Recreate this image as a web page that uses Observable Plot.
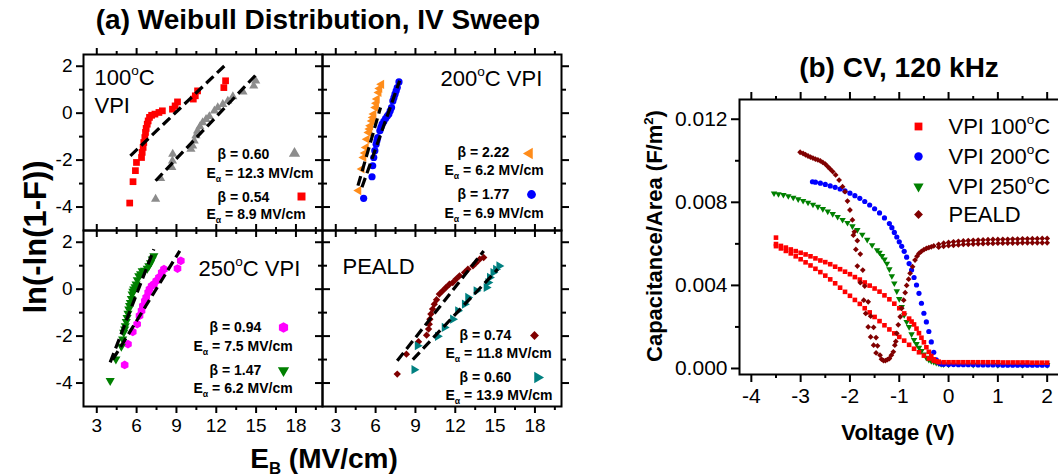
<!DOCTYPE html>
<html>
<head>
<meta charset="utf-8">
<script src="https://cdn.jsdelivr.net/npm/d3@7"></script>
<script src="https://cdn.jsdelivr.net/npm/@observablehq/plot@0.6"></script>
<style>
html, body { margin: 0; padding: 0; background: #fff; overflow: hidden; }
#root { position: relative; width: 1058px; height: 476px; font-family: "Liberation Sans", Arial, Helvetica, sans-serif; color: #000; }
.abs { position: absolute; white-space: nowrap; line-height: 1.15; }
.abs sub { font-size: 0.6em; vertical-align: -0.35em; line-height: 0; }
.abs sup { font-size: 0.6em; vertical-align: 0.7em; line-height: 0; }
</style>
</head>
<body>
<div id="root"></div>
<script>
// ================= (a) Weibull data: [E_B (MV/cm), ln(-ln(1-F))] =================
const vpi100Tri = [[7.43,-3.66],[7.81,-2.78],[8.65,-2.31],[8.70,-2.03],[8.72,-1.74],[10.09,-1.53],[10.22,-1.39],[10.34,-1.18],[10.47,-0.96],[10.59,-0.75],[10.77,-0.57],[10.97,-0.40],[11.23,-0.26],[11.48,-0.14],[11.86,0.10],[12.11,0.24],[12.49,0.38],[12.87,0.52],[13.25,0.71],[14.01,0.91],[14.82,1.16],[14.97,1.38]];
const vpi100Sq = [[5.48,-3.83],[5.73,-2.92],[5.91,-2.45],[5.99,-2.10],[6.37,-1.89],[6.42,-1.67],[6.49,-1.46],[6.54,-1.25],[6.62,-1.04],[6.67,-0.82],[6.72,-0.65],[6.80,-0.47],[6.87,-0.33],[6.97,-0.18],[7.13,-0.09],[7.38,-0.04],[7.68,0.03],[7.94,0.10],[8.70,0.17],[8.90,0.31],[9.08,0.48],[10.27,0.60],[10.42,0.74],[10.59,0.95],[12.57,1.09],[12.70,1.38]];
const vpi200Tri = [[4.72,-3.30],[4.97,-2.38],[5.10,-1.89],[5.20,-1.70],[5.28,-1.46],[5.35,-1.11],[5.48,-0.82],[5.55,-0.68],[5.61,-0.54],[5.73,-0.33],[5.80,-0.18],[5.86,-0.04],[5.99,0.24],[6.05,0.42],[6.11,0.60],[6.24,0.88],[6.30,1.05],[6.44,1.23]];
const vpi200Circ = [[5.10,-3.63],[5.73,-2.71],[5.78,-2.24],[5.86,-1.89],[5.94,-1.60],[6.04,-1.32],[6.10,-1.18],[6.16,-1.04],[6.32,-0.75],[6.40,-0.60],[6.49,-0.47],[6.62,-0.35],[6.75,-0.23],[6.88,-0.12],[7.00,-0.04],[7.10,0.10],[7.20,0.24],[7.30,0.52],[7.38,0.66],[7.46,0.81],[7.55,0.95],[7.63,1.09],[7.76,1.33]];
const vpi250Hex = [[5.10,-3.23],[5.35,-2.34],[5.71,-1.82],[6.04,-1.49],[6.22,-1.13],[6.37,-0.92],[6.47,-0.71],[6.62,-0.50],[6.72,-0.35],[6.87,-0.14],[6.97,0.00],[7.13,0.14],[7.30,0.21],[7.48,0.35],[7.68,0.50],[7.89,0.71],[8.06,0.85],[9.08,0.88],[9.33,1.21]];
const vpi250Tri = [[4.01,-3.90],[4.44,-2.98],[4.85,-2.44],[4.95,-2.13],[5.03,-1.84],[5.10,-1.70],[5.15,-1.56],[5.22,-1.38],[5.28,-1.21],[5.35,-1.03],[5.41,-0.85],[5.47,-0.70],[5.53,-0.57],[5.60,-0.40],[5.66,-0.21],[5.72,-0.10],[5.78,0.00],[5.88,0.10],[5.96,0.21],[6.05,0.40],[6.16,0.57],[6.30,0.65],[6.42,0.78],[6.60,0.80],[6.80,0.88],[6.92,0.99],[7.05,1.12],[7.18,1.28],[7.30,1.42]];
const pealdDia = [[7.63,-3.62],[8.32,-2.77],[9.23,-2.24],[9.84,-1.96],[9.99,-1.70],[10.04,-1.49],[10.09,-1.28],[10.16,-1.06],[10.29,-0.85],[10.42,-0.64],[10.59,-0.45],[10.80,-0.21],[11.05,-0.07],[11.30,0.07],[11.56,0.21],[11.81,0.28],[12.06,0.43],[12.32,0.57],[12.70,0.71],[12.95,0.85],[13.33,0.99],[13.58,1.13],[13.84,1.28],[14.14,1.35]];
const pealdTri = [[8.90,-3.43],[9.15,-2.41],[10.67,-2.01],[11.18,-1.63],[11.81,-1.28],[12.19,-0.92],[12.70,-0.64],[12.95,-0.35],[13.58,-0.07],[14.34,0.07],[14.47,0.28],[14.59,0.50],[14.85,0.71],[15.05,0.85],[15.30,0.99]];

// Weibull fit lines: [[E1, y1], [E2, y2]]
const fitVpi100Tri = [[7.43,-2.88],[15.03,1.66]];
const fitVpi100Sq = [[5.53,-1.82],[12.75,2.09]];
const fitVpi200Tri = [[4.67,-3.09],[6.37,0.24]];
const fitVpi200Circ = [[4.97,-3.16],[7.81,1.38]];
const fitVpi250Hex = [[4.20,-3.00],[9.25,1.63]];
const fitVpi250Tri = [[4.01,-3.12],[7.30,1.70]];
const fitPealdDia = [[7.63,-3.05],[14.14,1.63]];
const fitPealdTri = [[8.80,-3.00],[15.20,0.85]];

// Fit parameter labels
const betaLabels = ["β = 0.60","β = 0.54","β = 2.22","β = 1.77","β = 0.94","β = 1.47","β = 0.74","β = 0.60"];
const alphaLabels = ["Eα = 12.3 MV/cm","Eα = 8.9 MV/cm","Eα = 6.2 MV/cm","Eα = 6.9 MV/cm","Eα = 7.5 MV/cm","Eα = 6.2 MV/cm","Eα = 11.8 MV/cm","Eα = 13.9 MV/cm"];
const panelTitles = [["100°C","VPI"],["200°C VPI"],["250°C VPI"],["PEALD"]];

const xTicksA = [3,6,9,12,15,18];
const xMinorA = [4.5,7.5,10.5,13.5,16.5,19.5];
const yTicksA = [-4,-2,0,2];
const yMinorA = [-3,-1,1];

// ================= (b) CV data: [Voltage (V), C/A (F/m^2)] =================
const cvVpi100Up = [[-3.5,0.0063],[-3.5,0.00599],[-3.4,0.0059],[-3.3,0.00582],[-3.2,0.00573],[-3.1,0.00565],[-3.0,0.00557],[-2.9,0.00549],[-2.8,0.0054],[-2.7,0.0053],[-2.6,0.0052],[-2.5,0.00512],[-2.4,0.00502],[-2.3,0.0049],[-2.2,0.00478],[-2.1,0.00466],[-2.0,0.00454],[-1.9,0.0044],[-1.8,0.00428],[-1.7,0.00414],[-1.6,0.00399],[-1.5,0.00385],[-1.4,0.0037],[-1.3,0.00352],[-1.2,0.00333],[-1.1,0.00312],[-1.0,0.0029],[-0.9,0.00265],[-0.8,0.0024],[-0.75,0.00226],[-0.7,0.00212],[-0.65,0.00192],[-0.6,0.0017],[-0.55,0.00148],[-0.5,0.00126],[-0.45,0.00102],[-0.4,0.0008],[-0.35,0.0006],[-0.3,0.00044],[-0.25,0.00035],[-0.2,0.00031]];
const cvVpi100Down = [[-3.5,0.00589],[-3.4,0.00578],[-3.3,0.00566],[-3.2,0.00554],[-3.1,0.0054],[-3.0,0.00526],[-2.9,0.00511],[-2.8,0.00496],[-2.7,0.0048],[-2.6,0.00464],[-2.5,0.00447],[-2.4,0.00429],[-2.3,0.0041],[-2.2,0.00389],[-2.1,0.00369],[-2.0,0.0035],[-1.9,0.0033],[-1.8,0.00311],[-1.7,0.0029],[-1.6,0.0027],[-1.5,0.00248],[-1.4,0.00228],[-1.3,0.00208],[-1.2,0.00188],[-1.1,0.00169],[-1.0,0.00152],[-0.9,0.00134],[-0.8,0.00114],[-0.7,0.00095],[-0.6,0.00078],[-0.5,0.00062],[-0.4,0.00048],[-0.3,0.00038],[-0.2,0.00032]];
const cvVpi100Tail = [[-0.1,0.0003],[0,0.0003],[0.1,0.0003],[0.2,0.0003],[0.3,0.0003],[0.4,0.0003],[0.5,0.0003],[0.6,0.0003],[0.7,0.0003],[0.8,0.0003],[0.9,0.0003],[1.0,0.0003],[1.1,0.00029],[1.2,0.00029],[1.3,0.00029],[1.4,0.00029],[1.5,0.00029],[1.6,0.00029],[1.7,0.00028],[1.8,0.00028],[1.9,0.00028],[2.0,0.00028]];
const cvVpi200 = [[-2.76,0.00899],[-2.7,0.00897],[-2.6,0.00892],[-2.5,0.00886],[-2.4,0.00879],[-2.3,0.00872],[-2.2,0.00864],[-2.1,0.00855],[-2.0,0.00844],[-1.9,0.00832],[-1.8,0.00819],[-1.7,0.00804],[-1.6,0.00787],[-1.5,0.00769],[-1.4,0.00749],[-1.3,0.00725],[-1.2,0.00698],[-1.15,0.00678],[-1.1,0.00655],[-1.05,0.00633],[-1.0,0.0061],[-0.95,0.00588],[-0.9,0.00564],[-0.85,0.00536],[-0.8,0.00505],[-0.75,0.00474],[-0.7,0.00438],[-0.65,0.00402],[-0.6,0.00362],[-0.55,0.00314],[-0.5,0.00266],[-0.45,0.00224],[-0.4,0.00178],[-0.35,0.00128],[-0.3,0.00078],[-0.25,0.00042],[-0.2,0.00027],[-0.15,0.00022]];
const cvVpi200Tail = [[-0.1,0.0002],[0,0.00019],[0.1,0.00019],[0.2,0.00018],[0.3,0.00018],[0.4,0.00018],[0.5,0.00018],[0.6,0.00017],[0.7,0.00017],[0.8,0.00017],[0.9,0.00017],[1.0,0.00017],[1.1,0.00016],[1.2,0.00016],[1.3,0.00016],[1.4,0.00016],[1.5,0.00016],[1.6,0.00016],[1.7,0.00016],[1.8,0.00016],[1.9,0.00016],[2.0,0.00016]];
const cvVpi250 = [[-3.54,0.00843],[-3.45,0.0084],[-3.35,0.00836],[-3.25,0.0083],[-3.15,0.00823],[-3.05,0.00815],[-2.95,0.00807],[-2.85,0.00799],[-2.75,0.00789],[-2.65,0.00779],[-2.55,0.00768],[-2.45,0.00756],[-2.35,0.00744],[-2.25,0.0073],[-2.15,0.00716],[-2.05,0.00701],[-1.95,0.00685],[-1.85,0.00667],[-1.75,0.00645],[-1.65,0.0062],[-1.55,0.00594],[-1.45,0.0057],[-1.4,0.00558],[-1.35,0.00542],[-1.3,0.00525],[-1.25,0.00505],[-1.2,0.00478],[-1.15,0.00445],[-1.1,0.0041],[-1.05,0.00372],[-1.0,0.00335],[-0.95,0.00297],[-0.9,0.00257],[-0.85,0.00225],[-0.8,0.002],[-0.75,0.00165],[-0.7,0.00138],[-0.65,0.00118],[-0.6,0.001],[-0.55,0.00085],[-0.5,0.00068],[-0.45,0.00052],[-0.4,0.00042],[-0.35,0.00036],[-0.3,0.00032],[-0.25,0.00028],[-0.2,0.00025],[-0.15,0.00022],[-0.1,0.0002],[0,0.00019],[0.5,0.00018],[1.0,0.00017],[1.5,0.00017],[2.0,0.00017]];
const cvPeald = [[-3.01,0.01041],[-2.95,0.01035],[-2.9,0.01029],[-2.85,0.01023],[-2.8,0.01018],[-2.75,0.01013],[-2.7,0.01008],[-2.65,0.01004],[-2.6,0.00999],[-2.55,0.00992],[-2.5,0.00984],[-2.45,0.00972],[-2.4,0.0096],[-2.35,0.00948],[-2.29,0.00932],[-2.22,0.00907],[-2.15,0.00875],[-2.1,0.00851],[-2.05,0.00806],[-2.0,0.00763],[-1.95,0.00715],[-1.91,0.00658],[-1.93,0.00642],[-1.85,0.00615],[-1.88,0.00573],[-1.79,0.00551],[-1.85,0.00493],[-1.74,0.00474],[-1.79,0.00413],[-1.70,0.00397],[-1.72,0.00329],[-1.63,0.00321],[-1.68,0.00265],[-1.58,0.00252],[-1.63,0.002],[-1.52,0.00198],[-1.58,0.00152],[-1.47,0.00149],[-1.52,0.00112],[-1.44,0.00109],[-1.47,0.00075],[-1.39,0.00064],[-1.36,0.00045],[-1.32,0.00038],[-1.28,0.00038],[-1.24,0.00043],[-1.2,0.00048],[-1.16,0.00064],[-1.12,0.0008],[-1.09,0.00112],[-1.07,0.0013],[-1.05,0.00169],[-1.02,0.0021],[-0.98,0.00249],[-0.95,0.0029],[-0.91,0.00329],[-0.88,0.00365],[-0.85,0.004],[-0.81,0.0043],[-0.78,0.00458],[-0.73,0.0049],[-0.68,0.00522],[-0.64,0.0054],[-0.6,0.00554],[-0.55,0.00564],[-0.5,0.00572],[-0.45,0.00578],[-0.4,0.00582],[-0.35,0.00586],[-0.3,0.0059]];
const cvPealdUpper = [[-0.2,0.00598],[-0.1,0.00603],[0,0.00607],[0.1,0.0061],[0.2,0.00612],[0.3,0.00614],[0.4,0.00616],[0.5,0.00617],[0.6,0.00618],[0.7,0.00619],[0.8,0.0062],[0.9,0.00621],[1.0,0.00621],[1.1,0.00622],[1.2,0.00622],[1.3,0.00623],[1.4,0.00623],[1.5,0.00624],[1.6,0.00624],[1.7,0.00625],[1.8,0.00625],[1.9,0.00626],[2.0,0.00626]];
const cvPealdLower = [[-0.2,0.00584],[-0.1,0.00588],[0,0.00591],[0.1,0.00593],[0.2,0.00595],[0.3,0.00597],[0.4,0.00598],[0.5,0.00599],[0.6,0.006],[0.7,0.00601],[0.8,0.00602],[0.9,0.00602],[1.0,0.00603],[1.1,0.00603],[1.2,0.00604],[1.3,0.00604],[1.4,0.00604],[1.5,0.00605],[1.6,0.00605],[1.7,0.00605],[1.8,0.00605],[1.9,0.00605],[2.0,0.00605]];
const cvNames = ["VPI 100°C","VPI 200°C","VPI 250°C","PEALD"];
const xTicksB = [-4,-3,-2,-1,0,1,2];
const xMinorB = [-3.5,-2.5,-1.5,-0.5,0.5,1.5];
const yTicksB = [0,0.004,0.008,0.012];
const yMinorB = [0.002,0.006,0.010];

// ================= rendering =================
const FONT = '"Liberation Sans", Arial, Helvetica, sans-serif';
const root = document.getElementById("root");
const pts = (arr, extra = {}) => arr.map(([x, y]) => ({x, y, ...extra}));
const fmtMinus = d => (d < 0 ? "-" : "") + Math.abs(d);

// ---------- (a) ----------
const weibull = [
  {fx:"L", fy:"T", pts: vpi100Tri, fit: fitVpi100Tri, symbol:"triangle", rotate:0, color:"#8c8c8c", r:3.4, lr:4.2},
  {fx:"L", fy:"T", pts: vpi100Sq, fit: fitVpi100Sq, symbol:"square", rotate:0, color:"#ff0000", r:3.8, lr:4.5},
  {fx:"R", fy:"T", pts: vpi200Tri, fit: fitVpi200Tri, symbol:"triangle", rotate:-90, color:"#ff8c1a", r:3.4, lr:4.2},
  {fx:"R", fy:"T", pts: vpi200Circ, fit: fitVpi200Circ, symbol:"circle", rotate:0, color:"#0000ff", r:3.6, lr:4.4},
  {fx:"L", fy:"B", pts: vpi250Hex, fit: fitVpi250Hex, symbol:"hexagon", rotate:0, color:"#ff00ff", r:3.8, lr:4.6},
  {fx:"L", fy:"B", pts: vpi250Tri, fit: fitVpi250Tri, symbol:"triangle", rotate:180, color:"#008000", r:3.4, lr:4.2},
  {fx:"R", fy:"B", pts: pealdDia, fit: fitPealdDia, symbol:"diamond2", rotate:0, color:"#800000", r:3.3, lr:4.0},
  {fx:"R", fy:"B", pts: pealdTri, fit: fitPealdTri, symbol:"triangle", rotate:90, color:"#008080", r:3.4, lr:4.2}
];
// annotation layout, pixels from facet top-left: [betaX, betaY, alphaX, alphaY, markerX, markerY]
const annoLayout = [
  [134,100,123,119,211,99],[134,143,123,160,218,142],
  [135,98,122,116,207,99],[135,140,122,159,209,140],
  [126,97,110,116,200,97],[126,140,110,158,200,140],
  [137,105,123,123,212,105],[137,147,123,165,215,147]
];
const titleLayout = [[[11,23],[11,51]],[[118,24]],[[115,38]],[[20,36]]];
const facetKeys = [["L","T"],["R","T"],["L","B"],["R","B"]];

const marksA = [];
for (const anchor of ["top","bottom"]) {
  marksA.push(Plot.axisX(xTicksA, {anchor, facetAnchor: null, tickSize: 7, fill: "none", stroke: "#000", strokeWidth: 2}));
  marksA.push(Plot.axisX(xMinorA, {anchor, facetAnchor: null, tickSize: 4, fill: "none", stroke: "#000", strokeWidth: 2}));
}
for (const anchor of ["left","right"]) {
  marksA.push(Plot.axisY(yTicksA, {anchor, facetAnchor: null, tickSize: 7, fill: "none", stroke: "#000", strokeWidth: 2}));
  marksA.push(Plot.axisY(yMinorA, {anchor, facetAnchor: null, tickSize: 4, fill: "none", stroke: "#000", strokeWidth: 2}));
}
marksA.push(Plot.axisX(xTicksA, {anchor:"bottom", facetAnchor:"bottom", tickSize:7, tickPadding:5, stroke:"none", fontSize:19, label:null, tickFormat: fmtMinus}));
marksA.push(Plot.axisY(yTicksA, {anchor:"left", facetAnchor:"left", tickSize:7, tickPadding:4, stroke:"none", fontSize:19, label:null, tickFormat: fmtMinus}));
marksA.push(Plot.frame({stroke:"#000", strokeWidth:2}));

weibull.forEach((s) => {
  marksA.push(Plot.dot(pts(s.pts, {fx:s.fx, fy:s.fy}), {x:"x", y:"y", fx:"fx", fy:"fy", symbol:s.symbol, rotate:s.rotate, r:s.r, fill:s.color, stroke:"none"}));
});
weibull.forEach((s) => {
  marksA.push(Plot.link([{x1:s.fit[0][0], y1:s.fit[0][1], x2:s.fit[1][0], y2:s.fit[1][1], fx:s.fx, fy:s.fy}],
    {x1:"x1", y1:"y1", x2:"x2", y2:"y2", fx:"fx", fy:"fy", stroke:"#000", strokeWidth:3.2, strokeDasharray:"10,5"}));
});
weibull.forEach((s, i) => {
  const L = annoLayout[i];
  const d = [{fx:s.fx, fy:s.fy}];
  marksA.push(Plot.text(d, {fx:"fx", fy:"fy", text: () => betaLabels[i], frameAnchor:"top-left", dx:L[0], dy:L[1], textAnchor:"start", lineAnchor:"middle", fontSize:14, fontWeight:"bold", fill:"#000"}));
  marksA.push(Plot.text(d, {fx:"fx", fy:"fy", text: () => alphaLabels[i], frameAnchor:"top-left", dx:L[2], dy:L[3], textAnchor:"start", lineAnchor:"middle", fontSize:14, fontWeight:"bold", fill:"#000"}));
  marksA.push(Plot.dot(d, {fx:"fx", fy:"fy", frameAnchor:"top-left", dx:L[4], dy:L[5], symbol:s.symbol, rotate:s.rotate, r:s.lr, fill:s.color, stroke:"none"}));
});
panelTitles.forEach((lines, k) => {
  lines.forEach((t, j) => {
    const [dx, dy] = titleLayout[k][j];
    marksA.push(Plot.text([{fx:facetKeys[k][0], fy:facetKeys[k][1]}], {fx:"fx", fy:"fy", text: () => t, frameAnchor:"top-left", dx, dy, textAnchor:"start", lineAnchor:"middle", fontSize:22, fill:"#000"}));
  });
});

const plotA = Plot.plot({
  width: 600, height: 476,
  marginLeft: 82, marginRight: 39, marginTop: 54, marginBottom: 70,
  x: {domain: [2, 20]},
  y: {domain: [-5, 2.5]},
  fx: {domain: ["L","R"], padding: 0, axis: null},
  fy: {domain: ["T","B"], padding: 0, axis: null},
  style: {fontFamily: FONT, background: "transparent", overflow: "visible", color: "#000"},
  marks: marksA
});
plotA.style.position = "absolute"; plotA.style.left = "0px"; plotA.style.top = "0px";
root.appendChild(plotA);

// ---------- (b) ----------
const cvSeries = [
  {data: cvVpi250, symbol:"triangle", rotate:180, color:"#008000", r:2.4},
  {data: cvVpi200.concat(cvVpi200Tail), symbol:"circle", rotate:0, color:"#0000ff", r:2.6},
  {data: cvVpi100Up.concat(cvVpi100Down, cvVpi100Tail), symbol:"square", rotate:0, color:"#ff0000", r:2.6},
  {data: cvPeald.concat(cvPealdUpper, cvPealdLower), symbol:"diamond2", rotate:0, color:"#800000", r:2.6}
];
const legendB = [
  {symbol:"square", rotate:0, color:"#ff0000", r:4.4},
  {symbol:"circle", rotate:0, color:"#0000ff", r:4.2},
  {symbol:"triangle", rotate:180, color:"#008000", r:3.8},
  {symbol:"diamond2", rotate:0, color:"#800000", r:4.0}
];
const legendRowsB = [27, 57, 87, 115];
const fmtB = d => d.toFixed(3);

const marksB = [];
for (const anchor of ["top","bottom"]) {
  marksB.push(Plot.axisX(xTicksB, {anchor, tickSize: 8, fill: "none", stroke:"#000", strokeWidth: 2}));
  marksB.push(Plot.axisX(xMinorB, {anchor, tickSize: 4, fill: "none", stroke:"#000", strokeWidth: 2}));
}
marksB.push(Plot.axisY(yTicksB, {anchor:"left", tickSize: 8, fill: "none", stroke:"#000", strokeWidth: 2}));
marksB.push(Plot.axisY(yMinorB, {anchor:"left", tickSize: 4, fill: "none", stroke:"#000", strokeWidth: 2}));
marksB.push(Plot.axisX(xTicksB, {anchor:"bottom", tickSize:8, tickPadding:6, stroke:"none", fontSize:21, label:null, tickFormat: fmtMinus}));
marksB.push(Plot.axisY(yTicksB, {anchor:"left", tickSize:8, tickPadding:4, stroke:"none", fontSize:21, label:null, tickFormat: fmtB}));
marksB.push(Plot.frame({stroke:"#000", strokeWidth:2}));
cvSeries.forEach(s => {
  marksB.push(Plot.dot(pts(s.data), {x:"x", y:"y", symbol:s.symbol, rotate:s.rotate, r:s.r, fill:s.color, stroke:"none"}));
});
legendB.forEach((s, i) => {
  marksB.push(Plot.dot([0], {frameAnchor:"top-left", dx:179, dy:legendRowsB[i], symbol:s.symbol, rotate:s.rotate, r:s.r, fill:s.color, stroke:"none"}));
  marksB.push(Plot.text([0], {frameAnchor:"top-left", dx:209, dy:legendRowsB[i], text: () => cvNames[i], textAnchor:"start", lineAnchor:"middle", fontSize:22, fill:"#000"}));
});

const plotB = Plot.plot({
  width: 459, height: 476,
  marginLeft: 139, marginRight: 0, marginTop: 99, marginBottom: 102,
  x: {domain: [-4.24, 2.25]},
  y: {domain: [-0.00029, 0.01295]},
  style: {fontFamily: FONT, background: "transparent", overflow: "visible", color: "#000"},
  marks: marksB
});
plotB.style.position = "absolute"; plotB.style.left = "600px"; plotB.style.top = "0px";
root.appendChild(plotB);

// ---------- rich text: subscript alpha, superscript o ----------
function richify(svg) {
  const ns = "http://www.w3.org/2000/svg";
  svg.querySelectorAll("text").forEach(el => {
    const t = el.textContent;
    if (!/[°α]/.test(t) || el.querySelector("tspan")) return;
    const fs = parseFloat(getComputedStyle(el).fontSize) || 14;
    const segs = [];
    let buf = "";
    for (const ch of t) {
      if (ch === "α" || ch === "°") {
        if (buf) segs.push({s: buf, k: 0}); buf = "";
        segs.push(ch === "α" ? {s: "α", k: 1} : {s: "o", k: -1});
      } else buf += ch;
    }
    if (buf) segs.push({s: buf, k: 0});
    el.textContent = "";
    let cur = 0;
    for (const seg of segs) {
      const ts = document.createElementNS(ns, "tspan");
      const target = seg.k === 1 ? 0.32 * fs : seg.k === -1 ? -0.45 * fs : 0;
      if (target !== cur) ts.setAttribute("dy", (target - cur).toFixed(2));
      cur = target;
      if (seg.k !== 0) ts.setAttribute("font-size", (0.62 * fs).toFixed(1));
      ts.textContent = seg.s;
      el.appendChild(ts);
    }
  });
}
richify(plotA);
richify(plotB);

// ---------- HTML titles ----------
function label(html, cx, cy, size, bold, rotate) {
  const d = document.createElement("div");
  d.className = "abs";
  d.innerHTML = html;
  d.style.left = cx + "px";
  d.style.top = cy + "px";
  d.style.fontSize = size + "px";
  d.style.fontWeight = bold ? "bold" : "normal";
  d.style.transform = "translate(-50%,-50%)" + (rotate ? ` rotate(${rotate}deg)` : "");
  root.appendChild(d);
}
label("(a) Weibull Distribution, IV Sweep", 318, 20, 28, true);
label("ln(-ln(1-F))", 36, 237, 31, true, -90);
label("E<sub>B</sub> (MV/cm)", 324, 459, 28, true);
label("(b) CV, 120 kHz", 899, 68, 28, true);
label("Capacitance/Area (F/m<sup>2</sup>)", 655, 236, 22, true, -90);
label("Voltage (V)", 898, 433, 22, true);
</script>
</body>
</html>
